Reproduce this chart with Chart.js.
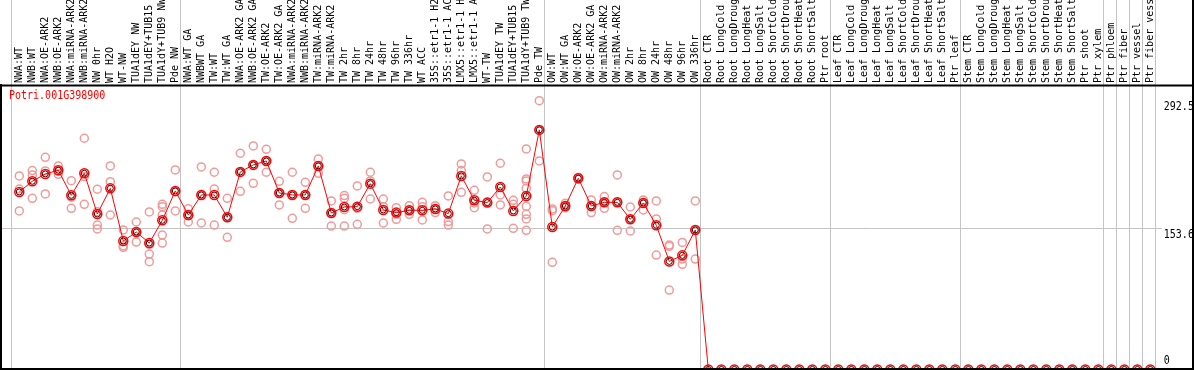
<!DOCTYPE html>
<html lang="en">
<head>
<meta charset="UTF-8">
<title>Potri.001G398900</title>
<script src="https://cdn.jsdelivr.net/npm/chart.js"></script>
<style>
  html, body { margin: 0; padding: 0; background: #fff; }
</style>
</head>
<body>
<canvas id="geneChart" width="1194" height="370"></canvas>
<script>
// gene shown in the corner
const geneName = 'Potri.001G398900';

// sample names, in plot order
const samples = [
  'NWA:WT', 'NWB:WT', 'NWA:OE-ARK2', 'NWB:OE-ARK2', 'NWA:miRNA-ARK2', 'NWB:miRNA-ARK2',
  'NW 0hr', 'WT H2O', 'WT-NW', 'TUA1dEY NW', 'TUA1dEY+TUB15 NW', 'TUA1dY+TUB9 NW', 'Pde NW',
  'NWA:WT GA', 'NWBWT GA', 'TW:WT', 'TW:WT GA', 'NWA:OE-ARK2 GA', 'NWB:OE-ARK2 GA',
  'TW:OE-ARK2', 'TW:OE-ARK2 GA', 'NWA:miRNA-ARK2 GA', 'NWB:miRNA-ARK2 GA', 'TW:miRNA-ARK2 GA',
  'TW:miRNA-ARK2', 'TW 2hr', 'TW 8hr', 'TW 24hr', 'TW 48hr', 'TW 96hr', 'TW 336hr', 'WT ACC',
  '35S::etr1-1 H2O', '35S::etr1-1 ACC', 'LMX5::etr1-1 H2O', 'LMX5::etr1-1 ACC', 'WT-TW',
  'TUA1dEY TW', 'TUA1dEY+TUB15 TW', 'TUA1dY+TUB9 TW', 'Pde TW',
  'OW:WT', 'OW:WT GA', 'OW:OE-ARK2', 'OW:OE-ARK2 GA', 'OW:miRNA-ARK2', 'OW:miRNA-ARK2 GA',
  'OW 2hr', 'OW 8hr', 'OW 24hr', 'OW 48hr', 'OW 96hr', 'OW 336hr',
  'Root CTR', 'Root LongCold', 'Root LongDrought', 'Root LongHeat', 'Root LongSalt',
  'Root ShortCold', 'Root ShortDrought', 'Root ShortHeat', 'Root ShortSalt', 'Ptr root',
  'Leaf CTR', 'Leaf LongCold', 'Leaf LongDrought', 'Leaf LongHeat', 'Leaf LongSalt',
  'Leaf ShortCold', 'Leaf ShortDrought', 'Leaf ShortHeat', 'Leaf ShortSalt', 'Ptr leaf',
  'Stem CTR', 'Stem LongCold', 'Stem LongDrought', 'Stem LongHeat', 'Stem LongSalt',
  'Stem ShortCold', 'Stem ShortDrought', 'Stem ShortHeat', 'Stem ShortSalt', 'Ptr shoot',
  'Ptr xylem', 'Ptr phloem', 'Ptr fiber', 'Ptr vessel', 'Ptr fiber vessel'
];

// mean expression per sample
const meanValues = [
  193.2, 204.8, 212.8, 216.8, 189.5, 213.5, 169.2, 197.1, 139.8, 149.6,
  137.6, 162.3, 194.3, 168.1, 189.9, 189.9, 165.6, 215.0, 222.6, 226.9,
  192.1, 189.9, 189.9, 221.5, 170.3, 176.8, 177.2, 202.2, 173.6, 170.7,
  173.2, 173.2, 174.7, 169.6, 210.6, 184.1, 181.6, 198.6, 172.5, 188.8,
  260.7, 155.0, 177.9, 208.1, 177.9, 181.9, 181.9, 163.4, 181.2, 156.9,
  117.6, 124.2, 151.8,
  0, 0, 0, 0, 0, 0, 0, 0, 0, 0,
  0, 0, 0, 0, 0, 0, 0, 0, 0, 0,
  0, 0, 0, 0, 0, 0, 0, 0, 0, 0,
  0, 0, 0, 0, 0
];

// single replicates for the first 53 samples (the rest are all zero)
const replicates = [
  [210.6, 196.4, 172.5], [216.4, 211.7, 186.3], [230.9, 216.0, 191.0], [221.5, 216.0, 212.4],
  [205.5, 187.4, 175.4], [251.6, 209.9, 179.7], [196.1, 171.7, 157.2, 152.9], [221.5, 204.4, 168.1],
  [151.8, 134.7, 132.9], [160.5, 150.0, 138.7], [171.4, 136.2, 125.6, 117.3],
  [179.7, 177.2, 168.1, 146.3, 137.6], [217.1, 193.5, 172.5],
  [175.0, 167.4, 160.5], [220.4, 189.9, 159.4], [214.6, 196.4, 157.2], [186.3, 165.6, 143.8],
  [235.3, 215.0, 193.9], [243.3, 222.6, 202.6], [239.6, 226.9, 214.6], [204.8, 192.1, 179.0],
  [214.6, 189.9, 164.5], [203.7, 189.9, 175.4], [229.1, 221.5, 213.5], [183.4, 170.3, 156.1],
  [189.2, 186.3, 173.9, 156.1], [199.7, 175.4, 158.0], [214.6, 205.2, 185.5], [185.5, 177.2, 159.4],
  [176.1, 168.8, 163.4], [178.3, 173.2, 168.8], [181.9, 177.2, 162.7], [178.3, 174.7, 170.7],
  [188.8, 160.9, 157.2], [223.7, 216.4, 192.8], [195.0, 181.2, 176.1], [209.5, 181.6, 152.9],
  [224.4, 189.9, 179.0], [184.1, 179.7, 153.6],
  [240.0, 207.3, 205.2, 197.1, 177.6, 168.8, 163.8, 151.4], [292.5, 260.7, 226.9],
  [174.7, 172.8, 116.6], [180.8, 177.9, 176.1], [208.8, 208.1, 207.3], [184.5, 177.9, 170.7],
  [188.1, 181.9, 175.4], [211.7, 181.9, 151.4], [176.8, 163.4, 150.7], [184.5, 181.2, 173.6],
  [183.4, 163.8, 124.5], [135.4, 134.0, 86.4], [138.3, 120.2, 114.4], [183.4, 151.8, 120.2]
];

// right hand tick labels, and the one grid line
const yTicks = [0, 153.6, 292.5];
const yGrid = [153.6];

// sample index where a new group starts (gray separators)
const groupBreaks = [0, 13, 41, 53, 63, 73, 84, 85, 86, 87, 88];

const replicatePoints = [];
replicates.forEach((vals, i) => {
  vals.forEach(v => replicatePoints.push({ x: samples[i], y: v }));
});

const MONO = '"DejaVu Sans Mono", "Liberation Mono", monospace';

// narrow but tall text, like the old bitmap font
function tallText(ctx, text, x, y) {
  ctx.save();
  ctx.translate(x, y);
  ctx.scale(1, 1.2);
  ctx.fillText(text, 0, 0);
  ctx.restore();
}

// grid + separators under the points, frame and text on top
const decorations = {
  id: 'decorations',
  beforeDatasetsDraw(chart) {
    const { ctx, chartArea, scales: { y } } = chart;
    const step = (chartArea.right - chartArea.left) / samples.length;
    ctx.save();
    ctx.strokeStyle = '#c4c4c4';
    ctx.lineWidth = 1;
    groupBreaks.forEach(g => {
      const px = Math.floor(chartArea.left + g * step - 1.5) + 0.5;
      ctx.beginPath();
      ctx.moveTo(px, 0);
      ctx.lineTo(px, chart.height);
      ctx.stroke();
    });
    yGrid.forEach(v => {
      const py = Math.floor(y.getPixelForValue(v)) + 0.5;
      ctx.beginPath();
      ctx.moveTo(0, py);
      ctx.lineTo(chartArea.right + 5, py);
      ctx.stroke();
    });
    ctx.restore();
  },
  afterDraw(chart) {
    const { ctx, chartArea, scales: { x, y } } = chart;
    const W = chart.width, H = chart.height;
    ctx.save();

    // frame
    ctx.strokeStyle = '#000';
    ctx.lineWidth = 2;
    ctx.beginPath();
    ctx.moveTo(0, 85.5); ctx.lineTo(W - 1, 85.5);
    ctx.moveTo(1, 84); ctx.lineTo(1, H);
    ctx.moveTo(W - 1, 0); ctx.lineTo(W - 1, H);
    ctx.moveTo(0, H - 1); ctx.lineTo(W, H - 1);
    ctx.stroke();

    // sample names, rotated, reading upward
    ctx.fillStyle = '#000';
    ctx.font = '10px ' + MONO;
    ctx.textAlign = 'left';
    ctx.textBaseline = 'middle';
    samples.forEach((s, i) => {
      ctx.save();
      ctx.translate(x.getPixelForValue(i) + 0.5, 83);
      ctx.rotate(-Math.PI / 2);
      ctx.fillText(s, 0, 0);
      ctx.restore();
    });

    // value labels on the right
    ctx.textBaseline = 'top';
    yTicks.forEach(v => {
      const py = Math.min(y.getPixelForValue(v) + 0.5, H - 15);
      tallText(ctx, String(v), chartArea.right + 7, py);
    });

    // gene id
    ctx.fillStyle = '#ff0000';
    tallText(ctx, geneName, 9, 90);
    ctx.restore();
  }
};

const chart = new Chart(document.getElementById('geneChart'), {
  type: 'line',
  data: {
    labels: samples,
    datasets: [
      {
        label: 'mean',
        data: meanValues,
        borderColor: '#ff0000',
        borderWidth: 1,
        pointRadius: 4.5,
        pointBorderColor: '#ff0000',
        pointBorderWidth: 1.5,
        pointBackgroundColor: 'rgba(0,0,0,0)',
        tension: 0,
        clip: false,
        order: 1
      },
      {
        label: 'mean ring',
        data: meanValues,
        showLine: false,
        pointRadius: 3,
        pointBorderColor: '#3a0000',
        pointBorderWidth: 1,
        pointBackgroundColor: 'rgba(0,0,0,0)',
        clip: false,
        order: 0
      },
      {
        label: 'replicates',
        data: replicatePoints,
        showLine: false,
        pointRadius: 4,
        pointBorderColor: '#f09a9a',
        pointBorderWidth: 1.5,
        pointBackgroundColor: 'rgba(0,0,0,0)',
        clip: false,
        order: 2
      }
    ]
  },
  options: {
    responsive: false,
    devicePixelRatio: 1,
    animation: false,
    layout: {
      autoPadding: false,
      padding: { left: 12.8, right: 37.2, top: 85.5, bottom: 0.5 }
    },
    scales: {
      x: { type: 'category', offset: true, display: false },
      y: { min: 0, max: 309, display: false }
    },
    plugins: {
      legend: { display: false },
      tooltip: { enabled: false }
    }
  },
  plugins: [decorations]
});
</script>
</body>
</html>
